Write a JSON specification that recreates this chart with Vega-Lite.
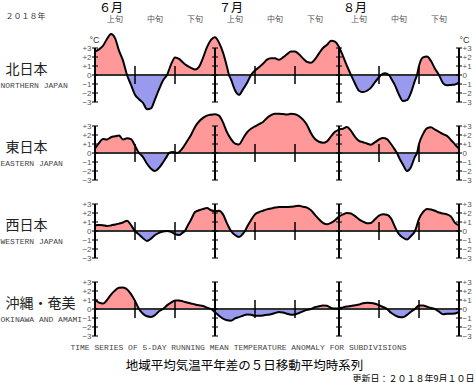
{
  "$schema": "https://vega.github.io/schema/vega-lite/v6.json",
  "padding": 0,
  "bounds": "flush",
  "spacing": 24,
  "config": {
    "view": {"stroke": null},
    "axis": {"domain": false, "ticks": false, "grid": false, "labelFont": "Liberation Sans", "labelFontSize": 8, "labelColor": "#555", "labelOverlap": false, "labelFlush": false, "titleFontWeight": "normal"}
  },
  "datasets": {
    "months": [
      {"date": "2018-06-05", "label": "６月"},
      {"date": "2018-07-05", "label": "７月"},
      {"date": "2018-08-05", "label": "８月"}
    ],
    "dekadLabels": [
      {"date": "2018-06-06", "label": "上旬"}, {"date": "2018-06-16", "label": "中旬"}, {"date": "2018-06-26", "label": "下旬"},
      {"date": "2018-07-06", "label": "上旬"}, {"date": "2018-07-16", "label": "中旬"}, {"date": "2018-07-26", "label": "下旬"},
      {"date": "2018-08-06", "label": "上旬"}, {"date": "2018-08-16", "label": "中旬"}, {"date": "2018-08-26", "label": "下旬"}
    ],
    "frame": [
      {"date": "2018-06-01", "ticks": [-3, -2, -1, 0, 1, 2, 3]},
      {"date": "2018-07-01", "ticks": [-3, -2, -1, 0, 1, 2, 3]},
      {"date": "2018-08-01", "ticks": [-3, -2, -1, 0, 1, 2, 3]},
      {"date": "2018-08-31", "ticks": [-3, -2, -1, 0, 1, 2, 3]}
    ],
    "dekads": [
      {"date": "2018-06-11"}, {"date": "2018-06-21"}, {"date": "2018-07-11"},
      {"date": "2018-07-21"}, {"date": "2018-08-11"}, {"date": "2018-08-21"}
    ],
    "north": [
      {"date": "2018-06-01", "v": 2.6}, {"date": "2018-06-02", "v": 2.85}, {"date": "2018-06-03", "v": 3.25}, {"date": "2018-06-04", "v": 4.0},
      {"date": "2018-06-05", "v": 4.55}, {"date": "2018-06-06", "v": 4.1}, {"date": "2018-06-07", "v": 2.7}, {"date": "2018-06-08", "v": 1.6},
      {"date": "2018-06-09", "v": 0}, {"date": "2018-06-10", "v": -1.1}, {"date": "2018-06-11", "v": -2.2}, {"date": "2018-06-12", "v": -2.7},
      {"date": "2018-06-13", "v": -3.1}, {"date": "2018-06-14", "v": -3.8}, {"date": "2018-06-15", "v": -3.7}, {"date": "2018-06-16", "v": -2.7},
      {"date": "2018-06-17", "v": -1.6}, {"date": "2018-06-18", "v": -0.6}, {"date": "2018-06-19", "v": 0}, {"date": "2018-06-20", "v": 1.15},
      {"date": "2018-06-21", "v": 1.95}, {"date": "2018-06-22", "v": 1.8}, {"date": "2018-06-23", "v": 1.4}, {"date": "2018-06-24", "v": 1.05},
      {"date": "2018-06-25", "v": 0.8}, {"date": "2018-06-26", "v": 0.6}, {"date": "2018-06-27", "v": 0.9}, {"date": "2018-06-28", "v": 1.9},
      {"date": "2018-06-29", "v": 3.1}, {"date": "2018-06-30", "v": 3.9}, {"date": "2018-07-01", "v": 4.2}, {"date": "2018-07-02", "v": 3.6},
      {"date": "2018-07-03", "v": 2.5}, {"date": "2018-07-04", "v": 0.9}, {"date": "2018-07-04T12:00Z", "v": 0}, {"date": "2018-07-05", "v": -0.5},
      {"date": "2018-07-06", "v": -1.7}, {"date": "2018-07-07", "v": -2.2}, {"date": "2018-07-08", "v": -1.6}, {"date": "2018-07-09", "v": -0.9},
      {"date": "2018-07-10", "v": 0}, {"date": "2018-07-11", "v": 0.5}, {"date": "2018-07-12", "v": 0.85}, {"date": "2018-07-13", "v": 1.25},
      {"date": "2018-07-14", "v": 1.7}, {"date": "2018-07-15", "v": 1.85}, {"date": "2018-07-16", "v": 1.85}, {"date": "2018-07-17", "v": 1.7},
      {"date": "2018-07-18", "v": 1.95}, {"date": "2018-07-19", "v": 2.3}, {"date": "2018-07-20", "v": 2.6}, {"date": "2018-07-21", "v": 2.6},
      {"date": "2018-07-22", "v": 2.3}, {"date": "2018-07-23", "v": 1.85}, {"date": "2018-07-24", "v": 1.45}, {"date": "2018-07-25", "v": 1.35},
      {"date": "2018-07-26", "v": 1.75}, {"date": "2018-07-27", "v": 2.4}, {"date": "2018-07-28", "v": 3.0}, {"date": "2018-07-29", "v": 3.35},
      {"date": "2018-07-30", "v": 3.8}, {"date": "2018-07-31", "v": 3.7}, {"date": "2018-08-01", "v": 3.1}, {"date": "2018-08-02", "v": 2.1},
      {"date": "2018-08-03", "v": 1.0}, {"date": "2018-08-04", "v": 0}, {"date": "2018-08-05", "v": -0.95}, {"date": "2018-08-06", "v": -1.75},
      {"date": "2018-08-07", "v": -1.9}, {"date": "2018-08-08", "v": -1.75}, {"date": "2018-08-09", "v": -1.4}, {"date": "2018-08-10", "v": -0.8},
      {"date": "2018-08-11", "v": -0.25}, {"date": "2018-08-11T12:00Z", "v": 0}, {"date": "2018-08-12T12:00Z", "v": 0.2}, {"date": "2018-08-13T12:00Z", "v": 0},
      {"date": "2018-08-14", "v": -0.35}, {"date": "2018-08-15", "v": -1.15}, {"date": "2018-08-16", "v": -2.2}, {"date": "2018-08-17", "v": -2.9},
      {"date": "2018-08-18", "v": -2.8}, {"date": "2018-08-19", "v": -1.95}, {"date": "2018-08-20", "v": -0.6}, {"date": "2018-08-20T12:00Z", "v": 0},
      {"date": "2018-08-21", "v": 1.0}, {"date": "2018-08-22", "v": 1.95}, {"date": "2018-08-23", "v": 2.05}, {"date": "2018-08-24", "v": 1.55},
      {"date": "2018-08-25", "v": 0.7}, {"date": "2018-08-26", "v": 0}, {"date": "2018-08-27", "v": -0.9}, {"date": "2018-08-28", "v": -1.15},
      {"date": "2018-08-29", "v": -1.1}, {"date": "2018-08-30", "v": -1.05}, {"date": "2018-08-31", "v": -0.8}
    ],
    "east": [
      {"date": "2018-06-01", "v": 0.5}, {"date": "2018-06-02", "v": 1.1}, {"date": "2018-06-03", "v": 1.55}, {"date": "2018-06-04", "v": 1.5},
      {"date": "2018-06-05", "v": 1.75}, {"date": "2018-06-06", "v": 1.85}, {"date": "2018-06-07", "v": 1.95}, {"date": "2018-06-08", "v": 1.5},
      {"date": "2018-06-09", "v": 1.65}, {"date": "2018-06-10", "v": 1.55}, {"date": "2018-06-11", "v": 0.8}, {"date": "2018-06-12", "v": 0},
      {"date": "2018-06-13", "v": -0.45}, {"date": "2018-06-14", "v": -1.2}, {"date": "2018-06-15", "v": -1.75}, {"date": "2018-06-16", "v": -2.0},
      {"date": "2018-06-17", "v": -1.65}, {"date": "2018-06-18", "v": -1.05}, {"date": "2018-06-19", "v": -0.35}, {"date": "2018-06-19T12:00Z", "v": 0},
      {"date": "2018-06-20T12:00Z", "v": 0.12}, {"date": "2018-06-21T12:00Z", "v": 0}, {"date": "2018-06-23", "v": 0.6}, {"date": "2018-06-24", "v": 1.3},
      {"date": "2018-06-25", "v": 2.0}, {"date": "2018-06-26", "v": 2.9}, {"date": "2018-06-27", "v": 3.5}, {"date": "2018-06-28", "v": 3.9},
      {"date": "2018-06-29", "v": 4.15}, {"date": "2018-06-30", "v": 4.25}, {"date": "2018-07-01", "v": 4.3}, {"date": "2018-07-02", "v": 4.15},
      {"date": "2018-07-03", "v": 3.4}, {"date": "2018-07-04", "v": 2.3}, {"date": "2018-07-05", "v": 1.55}, {"date": "2018-07-06", "v": 1.05},
      {"date": "2018-07-07", "v": 0.95}, {"date": "2018-07-08", "v": 1.6}, {"date": "2018-07-09", "v": 2.3}, {"date": "2018-07-10", "v": 2.7},
      {"date": "2018-07-11", "v": 2.95}, {"date": "2018-07-12", "v": 3.2}, {"date": "2018-07-13", "v": 3.45}, {"date": "2018-07-14", "v": 3.9},
      {"date": "2018-07-15", "v": 4.2}, {"date": "2018-07-16", "v": 4.37}, {"date": "2018-07-17", "v": 4.37}, {"date": "2018-07-18", "v": 4.33},
      {"date": "2018-07-19", "v": 4.27}, {"date": "2018-07-20", "v": 4.35}, {"date": "2018-07-21", "v": 4.3}, {"date": "2018-07-22", "v": 4.1},
      {"date": "2018-07-23", "v": 3.7}, {"date": "2018-07-24", "v": 3.1}, {"date": "2018-07-25", "v": 2.2}, {"date": "2018-07-26", "v": 1.55},
      {"date": "2018-07-27", "v": 1.25}, {"date": "2018-07-28", "v": 1.15}, {"date": "2018-07-29", "v": 1.3}, {"date": "2018-07-30", "v": 1.85},
      {"date": "2018-07-31", "v": 2.35}, {"date": "2018-08-01", "v": 2.6}, {"date": "2018-08-02", "v": 2.7}, {"date": "2018-08-03", "v": 2.9},
      {"date": "2018-08-04", "v": 2.45}, {"date": "2018-08-05", "v": 1.8}, {"date": "2018-08-06", "v": 1.35}, {"date": "2018-08-07", "v": 1.2},
      {"date": "2018-08-08", "v": 1.05}, {"date": "2018-08-09", "v": 0.93}, {"date": "2018-08-10", "v": 1.2}, {"date": "2018-08-11", "v": 1.5},
      {"date": "2018-08-12", "v": 1.67}, {"date": "2018-08-13", "v": 1.55}, {"date": "2018-08-14", "v": 1.0}, {"date": "2018-08-15", "v": 0.35},
      {"date": "2018-08-15T12:00Z", "v": 0}, {"date": "2018-08-16", "v": -0.5}, {"date": "2018-08-17", "v": -1.3}, {"date": "2018-08-18", "v": -2.0},
      {"date": "2018-08-19", "v": -1.55}, {"date": "2018-08-20", "v": -0.4}, {"date": "2018-08-20T12:00Z", "v": 0}, {"date": "2018-08-21", "v": 1.0},
      {"date": "2018-08-22", "v": 2.1}, {"date": "2018-08-23", "v": 2.75}, {"date": "2018-08-24", "v": 2.85}, {"date": "2018-08-25", "v": 2.6},
      {"date": "2018-08-26", "v": 2.35}, {"date": "2018-08-27", "v": 2.1}, {"date": "2018-08-28", "v": 1.9}, {"date": "2018-08-29", "v": 1.45},
      {"date": "2018-08-30", "v": 0.95}, {"date": "2018-08-31", "v": 0.5}
    ],
    "west": [
      {"date": "2018-06-01", "v": 0.63}, {"date": "2018-06-02", "v": 0.68}, {"date": "2018-06-03", "v": 0.65}, {"date": "2018-06-04", "v": 0.55},
      {"date": "2018-06-05", "v": 0.62}, {"date": "2018-06-06", "v": 0.72}, {"date": "2018-06-07", "v": 0.82}, {"date": "2018-06-08", "v": 0.95},
      {"date": "2018-06-09", "v": 1.15}, {"date": "2018-06-10", "v": 0.65}, {"date": "2018-06-11", "v": 0}, {"date": "2018-06-12", "v": -0.4},
      {"date": "2018-06-13", "v": -0.8}, {"date": "2018-06-14", "v": -1.1}, {"date": "2018-06-15", "v": -0.85}, {"date": "2018-06-16", "v": -0.45},
      {"date": "2018-06-17", "v": -0.2}, {"date": "2018-06-18", "v": -0.05}, {"date": "2018-06-19", "v": 0}, {"date": "2018-06-20", "v": -0.1},
      {"date": "2018-06-21", "v": -0.35}, {"date": "2018-06-22", "v": -0.45}, {"date": "2018-06-23", "v": -0.15}, {"date": "2018-06-23T12:00Z", "v": 0},
      {"date": "2018-06-24", "v": 0.45}, {"date": "2018-06-25", "v": 1.25}, {"date": "2018-06-26", "v": 2.1}, {"date": "2018-06-27", "v": 2.3},
      {"date": "2018-06-28", "v": 2.45}, {"date": "2018-06-29", "v": 2.55}, {"date": "2018-06-30", "v": 2.3}, {"date": "2018-07-01", "v": 2.2},
      {"date": "2018-07-02", "v": 2.25}, {"date": "2018-07-03", "v": 1.85}, {"date": "2018-07-04", "v": 0.85}, {"date": "2018-07-05", "v": 0},
      {"date": "2018-07-06", "v": -0.45}, {"date": "2018-07-07", "v": -0.67}, {"date": "2018-07-08", "v": -0.3}, {"date": "2018-07-08T12:00Z", "v": 0},
      {"date": "2018-07-09", "v": 0.45}, {"date": "2018-07-10", "v": 1.2}, {"date": "2018-07-11", "v": 1.85}, {"date": "2018-07-12", "v": 2.1},
      {"date": "2018-07-13", "v": 2.25}, {"date": "2018-07-14", "v": 2.4}, {"date": "2018-07-15", "v": 2.5}, {"date": "2018-07-16", "v": 2.6},
      {"date": "2018-07-17", "v": 2.67}, {"date": "2018-07-18", "v": 2.67}, {"date": "2018-07-19", "v": 2.67}, {"date": "2018-07-20", "v": 2.7},
      {"date": "2018-07-21", "v": 2.75}, {"date": "2018-07-22", "v": 2.8}, {"date": "2018-07-23", "v": 2.7}, {"date": "2018-07-24", "v": 2.6},
      {"date": "2018-07-25", "v": 2.3}, {"date": "2018-07-26", "v": 1.8}, {"date": "2018-07-27", "v": 1.3}, {"date": "2018-07-28", "v": 0.9},
      {"date": "2018-07-29", "v": 0.75}, {"date": "2018-07-30", "v": 0.9}, {"date": "2018-07-31", "v": 1.2}, {"date": "2018-08-01", "v": 1.6},
      {"date": "2018-08-02", "v": 1.85}, {"date": "2018-08-03", "v": 2.0}, {"date": "2018-08-04", "v": 1.95}, {"date": "2018-08-05", "v": 1.65},
      {"date": "2018-08-06", "v": 1.3}, {"date": "2018-08-07", "v": 1.05}, {"date": "2018-08-08", "v": 0.85}, {"date": "2018-08-09", "v": 0.9},
      {"date": "2018-08-10", "v": 1.3}, {"date": "2018-08-11", "v": 1.7}, {"date": "2018-08-12", "v": 1.85}, {"date": "2018-08-13", "v": 1.8},
      {"date": "2018-08-14", "v": 1.4}, {"date": "2018-08-15", "v": 0.45}, {"date": "2018-08-15T12:00Z", "v": 0}, {"date": "2018-08-16", "v": -0.35},
      {"date": "2018-08-17", "v": -0.75}, {"date": "2018-08-18", "v": -0.95}, {"date": "2018-08-19", "v": -0.55}, {"date": "2018-08-20", "v": 0},
      {"date": "2018-08-21", "v": 1.35}, {"date": "2018-08-22", "v": 2.1}, {"date": "2018-08-23", "v": 2.45}, {"date": "2018-08-24", "v": 2.4},
      {"date": "2018-08-25", "v": 2.25}, {"date": "2018-08-26", "v": 2.05}, {"date": "2018-08-27", "v": 1.95}, {"date": "2018-08-28", "v": 1.85},
      {"date": "2018-08-29", "v": 1.6}, {"date": "2018-08-30", "v": 0.9}, {"date": "2018-08-31", "v": 0.63}
    ],
    "okinawa": [
      {"date": "2018-06-01", "v": 1.07}, {"date": "2018-06-02", "v": 0.7}, {"date": "2018-06-03", "v": 0.6}, {"date": "2018-06-04", "v": 1.0},
      {"date": "2018-06-05", "v": 1.6}, {"date": "2018-06-06", "v": 2.05}, {"date": "2018-06-07", "v": 2.35}, {"date": "2018-06-08", "v": 2.4},
      {"date": "2018-06-09", "v": 2.2}, {"date": "2018-06-10", "v": 1.65}, {"date": "2018-06-11", "v": 0.9}, {"date": "2018-06-12", "v": 0},
      {"date": "2018-06-13", "v": -0.52}, {"date": "2018-06-14", "v": -0.8}, {"date": "2018-06-15", "v": -0.88}, {"date": "2018-06-16", "v": -0.68},
      {"date": "2018-06-17", "v": -0.25}, {"date": "2018-06-18", "v": 0}, {"date": "2018-06-19", "v": 0.4}, {"date": "2018-06-20", "v": 0.7},
      {"date": "2018-06-21", "v": 0.95}, {"date": "2018-06-22", "v": 0.95}, {"date": "2018-06-23", "v": 0.85}, {"date": "2018-06-24", "v": 0.72},
      {"date": "2018-06-25", "v": 0.62}, {"date": "2018-06-26", "v": 0.5}, {"date": "2018-06-27", "v": 0.42}, {"date": "2018-06-28", "v": 0.33},
      {"date": "2018-06-29", "v": 0.15}, {"date": "2018-06-30", "v": 0}, {"date": "2018-07-01", "v": -0.35}, {"date": "2018-07-02", "v": -0.75},
      {"date": "2018-07-03", "v": -1.07}, {"date": "2018-07-04", "v": -1.25}, {"date": "2018-07-05", "v": -1.3}, {"date": "2018-07-06", "v": -1.05},
      {"date": "2018-07-07", "v": -0.9}, {"date": "2018-07-08", "v": -0.75}, {"date": "2018-07-09", "v": -0.6}, {"date": "2018-07-10", "v": -0.65},
      {"date": "2018-07-11", "v": -0.75}, {"date": "2018-07-12", "v": -0.75}, {"date": "2018-07-13", "v": -0.72}, {"date": "2018-07-14", "v": -0.65},
      {"date": "2018-07-15", "v": -0.58}, {"date": "2018-07-16", "v": -0.45}, {"date": "2018-07-17", "v": -0.33}, {"date": "2018-07-18", "v": -0.4},
      {"date": "2018-07-19", "v": -0.52}, {"date": "2018-07-20", "v": -0.63}, {"date": "2018-07-21", "v": -0.6}, {"date": "2018-07-22", "v": -0.45},
      {"date": "2018-07-23", "v": -0.26}, {"date": "2018-07-24", "v": -0.1}, {"date": "2018-07-25", "v": 0}, {"date": "2018-07-26", "v": 0.2},
      {"date": "2018-07-27", "v": 0.3}, {"date": "2018-07-28", "v": 0.38}, {"date": "2018-07-29", "v": 0.35}, {"date": "2018-07-30", "v": 0.12},
      {"date": "2018-07-31", "v": 0.05}, {"date": "2018-08-01", "v": 0.07}, {"date": "2018-08-02", "v": 0.18}, {"date": "2018-08-03", "v": 0.27},
      {"date": "2018-08-04", "v": 0.33}, {"date": "2018-08-05", "v": 0.42}, {"date": "2018-08-06", "v": 0.5}, {"date": "2018-08-07", "v": 0.65},
      {"date": "2018-08-08", "v": 0.7}, {"date": "2018-08-09", "v": 0.67}, {"date": "2018-08-10", "v": 0.58}, {"date": "2018-08-11", "v": 0.42},
      {"date": "2018-08-12", "v": 0.22}, {"date": "2018-08-13", "v": 0}, {"date": "2018-08-14", "v": -0.42}, {"date": "2018-08-15", "v": -0.7},
      {"date": "2018-08-16", "v": -0.88}, {"date": "2018-08-17", "v": -0.92}, {"date": "2018-08-18", "v": -0.65}, {"date": "2018-08-19", "v": -0.3},
      {"date": "2018-08-20", "v": 0}, {"date": "2018-08-21", "v": 0.38}, {"date": "2018-08-22", "v": 0.38}, {"date": "2018-08-23", "v": 0.25},
      {"date": "2018-08-24", "v": 0.12}, {"date": "2018-08-25", "v": 0}, {"date": "2018-08-26", "v": -0.3}, {"date": "2018-08-27", "v": -0.59},
      {"date": "2018-08-28", "v": -0.53}, {"date": "2018-08-29", "v": -0.52}, {"date": "2018-08-30", "v": -0.5}, {"date": "2018-08-31", "v": -0.33}
    ]
  },
  "vconcat": [
    {
      "width": 364, "height": 24,
      "resolve": {"axis": {"x": "independent"}},
      "layer": [
        {
          "data": {"name": "months"},
          "mark": {"type": "text", "font": "Noto Sans CJK JP", "fontSize": 12, "color": "#000", "dy": -4},
          "encoding": {
            "x": {"field": "date", "type": "temporal", "scale": {"type": "utc", "domain": [{"year": 2018, "month": 6, "date": 1, "utc": true}, {"year": 2018, "month": 8, "date": 31, "utc": true}]},
              "axis": {"orient": "bottom", "labels": false, "title": "２０１８年", "titleAngle": 0, "titleAlign": "left", "titleBaseline": "middle", "titleX": -90, "titleY": -8, "titleFont": "Noto Sans CJK JP", "titleFontSize": 8, "titleColor": "#333"}},
            "text": {"field": "label"}
          }
        },
        {
          "data": {"name": "dekadLabels"},
          "mark": {"type": "text", "font": "Noto Sans CJK JP", "fontSize": 8, "color": "#555", "dy": 8},
          "encoding": {
            "x": {"field": "date", "type": "temporal", "scale": {"type": "utc", "domain": [{"year": 2018, "month": 6, "date": 1, "utc": true}, {"year": 2018, "month": 8, "date": 31, "utc": true}]}, "axis": null},
            "text": {"field": "label"}
          }
        }
      ]
    },
    {
      "width": 364, "height": 54,
      "resolve": {"axis": {"y": "independent"}},
      "layer": [
        {"data": {"name": "north"}, "transform": [{"filter": "datum.v >= 0"}],
         "mark": {"type": "area", "interpolate": "monotone", "color": "#ff9999"},
         "encoding": {"x": {"field": "date", "type": "temporal", "scale": {"type": "utc", "domain": [{"year": 2018, "month": 6, "date": 1, "utc": true}, {"year": 2018, "month": 8, "date": 31, "utc": true}]}, "axis": null},
           "y": {"field": "v", "type": "quantitative", "scale": {"domain": [-3, 3]}, "axis": {"orient": "left", "labels": false, "title": "北日本", "titleAngle": 0, "titleAlign": "left", "titleBaseline": "middle", "titleX": -90, "titleY": 21, "titleFont": "Noto Sans CJK JP", "titleFontSize": 14, "titleColor": "#222"}},
           "y2": {"datum": 0}}},
        {"data": {"name": "north"}, "transform": [{"filter": "datum.v <= 0"}],
         "mark": {"type": "area", "interpolate": "monotone", "color": "#9999ee"},
         "encoding": {"x": {"field": "date", "type": "temporal", "scale": {"type": "utc", "domain": [{"year": 2018, "month": 6, "date": 1, "utc": true}, {"year": 2018, "month": 8, "date": 31, "utc": true}]}, "axis": null},
           "y": {"field": "v", "type": "quantitative", "scale": {"domain": [-3, 3]}, "axis": {"orient": "left", "labels": false, "title": "NORTHERN JAPAN", "titleAngle": 0, "titleAlign": "left", "titleBaseline": "middle", "titleX": -95, "titleY": 37.5, "titleFont": "Liberation Mono", "titleFontSize": 8, "titleColor": "#444"}},
           "y2": {"datum": 0}}},
        {"data": {"values": [{}]},
         "mark": {"type": "rule", "color": "#333", "strokeWidth": 2},
         "encoding": {"y": {"datum": 0, "type": "quantitative", "scale": {"domain": [-3, 3]}, "axis": {"orient": "right", "values": [-3, -2, -1, 0, 1, 2, 3], "labelExpr": "datum.value > 0 ? '+' + datum.label : datum.label", "labelPadding": 3, "title": "°C", "titleAngle": 0, "titleAlign": "left", "titleBaseline": "middle", "titleX": 0, "titleY": -8.5, "titleFont": "Liberation Sans", "titleFontSize": 9, "titleColor": "#333"}}}},
        {"data": {"name": "frame"},
         "mark": {"type": "rule", "color": "#000", "strokeWidth": 2},
         "encoding": {"x": {"field": "date", "type": "temporal", "scale": {"type": "utc", "domain": [{"year": 2018, "month": 6, "date": 1, "utc": true}, {"year": 2018, "month": 8, "date": 31, "utc": true}]}, "axis": null},
           "y": {"datum": -3, "type": "quantitative", "scale": {"domain": [-3, 3]}, "axis": null}, "y2": {"datum": 3}}},
        {"data": {"name": "frame"}, "transform": [{"flatten": ["ticks"]}],
         "mark": {"type": "tick", "orient": "horizontal", "color": "#000", "size": 6, "thickness": 1.5},
         "encoding": {"x": {"field": "date", "type": "temporal", "scale": {"type": "utc", "domain": [{"year": 2018, "month": 6, "date": 1, "utc": true}, {"year": 2018, "month": 8, "date": 31, "utc": true}]}, "axis": null},
           "y": {"field": "ticks", "type": "quantitative", "scale": {"domain": [-3, 3]}, "axis": null}}},
        {"data": {"name": "dekads"},
         "mark": {"type": "rule", "color": "#000", "strokeWidth": 1.5},
         "encoding": {"x": {"field": "date", "type": "temporal", "scale": {"type": "utc", "domain": [{"year": 2018, "month": 6, "date": 1, "utc": true}, {"year": 2018, "month": 8, "date": 31, "utc": true}]}, "axis": null},
           "y": {"datum": -1, "type": "quantitative", "scale": {"domain": [-3, 3]}, "axis": null}, "y2": {"datum": 1}}},
        {"data": {"name": "north"},
         "mark": {"type": "line", "interpolate": "monotone", "color": "#000", "strokeWidth": 2},
         "encoding": {"x": {"field": "date", "type": "temporal", "scale": {"type": "utc", "domain": [{"year": 2018, "month": 6, "date": 1, "utc": true}, {"year": 2018, "month": 8, "date": 31, "utc": true}]}, "axis": null},
           "y": {"field": "v", "type": "quantitative", "scale": {"domain": [-3, 3]}, "axis": {"orient": "left", "values": [-3, -2, -1, 0, 1, 2, 3], "labelExpr": "datum.value > 0 ? '+' + datum.label : datum.label", "labelPadding": 4, "title": "°C", "titleAngle": 0, "titleAlign": "left", "titleBaseline": "middle", "titleX": -6, "titleY": -8.5, "titleFont": "Liberation Sans", "titleFontSize": 9, "titleColor": "#333"}}}}
      ]
    },
    {
      "width": 364, "height": 54,
      "resolve": {"axis": {"y": "independent"}},
      "layer": [
        {"data": {"name": "east"}, "transform": [{"filter": "datum.v >= 0"}],
         "mark": {"type": "area", "interpolate": "monotone", "color": "#ff9999"},
         "encoding": {"x": {"field": "date", "type": "temporal", "scale": {"type": "utc", "domain": [{"year": 2018, "month": 6, "date": 1, "utc": true}, {"year": 2018, "month": 8, "date": 31, "utc": true}]}, "axis": null},
           "y": {"field": "v", "type": "quantitative", "scale": {"domain": [-3, 3]}, "axis": {"orient": "left", "labels": false, "title": "東日本", "titleAngle": 0, "titleAlign": "left", "titleBaseline": "middle", "titleX": -90, "titleY": 21, "titleFont": "Noto Sans CJK JP", "titleFontSize": 14, "titleColor": "#222"}},
           "y2": {"datum": 0}}},
        {"data": {"name": "east"}, "transform": [{"filter": "datum.v <= 0"}],
         "mark": {"type": "area", "interpolate": "monotone", "color": "#9999ee"},
         "encoding": {"x": {"field": "date", "type": "temporal", "scale": {"type": "utc", "domain": [{"year": 2018, "month": 6, "date": 1, "utc": true}, {"year": 2018, "month": 8, "date": 31, "utc": true}]}, "axis": null},
           "y": {"field": "v", "type": "quantitative", "scale": {"domain": [-3, 3]}, "axis": {"orient": "left", "labels": false, "title": "EASTERN JAPAN", "titleAngle": 0, "titleAlign": "left", "titleBaseline": "middle", "titleX": -95, "titleY": 37.5, "titleFont": "Liberation Mono", "titleFontSize": 8, "titleColor": "#444"}},
           "y2": {"datum": 0}}},
        {"data": {"values": [{}]},
         "mark": {"type": "rule", "color": "#333", "strokeWidth": 2},
         "encoding": {"y": {"datum": 0, "type": "quantitative", "scale": {"domain": [-3, 3]}, "axis": {"orient": "right", "values": [-3, -2, -1, 0, 1, 2, 3], "labelExpr": "datum.value > 0 ? '+' + datum.label : datum.label", "labelPadding": 3, "title": null}}}},
        {"data": {"name": "frame"},
         "mark": {"type": "rule", "color": "#000", "strokeWidth": 2},
         "encoding": {"x": {"field": "date", "type": "temporal", "scale": {"type": "utc", "domain": [{"year": 2018, "month": 6, "date": 1, "utc": true}, {"year": 2018, "month": 8, "date": 31, "utc": true}]}, "axis": null},
           "y": {"datum": -3, "type": "quantitative", "scale": {"domain": [-3, 3]}, "axis": null}, "y2": {"datum": 3}}},
        {"data": {"name": "frame"}, "transform": [{"flatten": ["ticks"]}],
         "mark": {"type": "tick", "orient": "horizontal", "color": "#000", "size": 6, "thickness": 1.5},
         "encoding": {"x": {"field": "date", "type": "temporal", "scale": {"type": "utc", "domain": [{"year": 2018, "month": 6, "date": 1, "utc": true}, {"year": 2018, "month": 8, "date": 31, "utc": true}]}, "axis": null},
           "y": {"field": "ticks", "type": "quantitative", "scale": {"domain": [-3, 3]}, "axis": null}}},
        {"data": {"name": "dekads"},
         "mark": {"type": "rule", "color": "#000", "strokeWidth": 1.5},
         "encoding": {"x": {"field": "date", "type": "temporal", "scale": {"type": "utc", "domain": [{"year": 2018, "month": 6, "date": 1, "utc": true}, {"year": 2018, "month": 8, "date": 31, "utc": true}]}, "axis": null},
           "y": {"datum": -1, "type": "quantitative", "scale": {"domain": [-3, 3]}, "axis": null}, "y2": {"datum": 1}}},
        {"data": {"name": "east"},
         "mark": {"type": "line", "interpolate": "monotone", "color": "#000", "strokeWidth": 2},
         "encoding": {"x": {"field": "date", "type": "temporal", "scale": {"type": "utc", "domain": [{"year": 2018, "month": 6, "date": 1, "utc": true}, {"year": 2018, "month": 8, "date": 31, "utc": true}]}, "axis": null},
           "y": {"field": "v", "type": "quantitative", "scale": {"domain": [-3, 3]}, "axis": {"orient": "left", "values": [-3, -2, -1, 0, 1, 2, 3], "labelExpr": "datum.value > 0 ? '+' + datum.label : datum.label", "labelPadding": 4, "title": null}}}}
      ]
    },
    {
      "width": 364, "height": 54,
      "resolve": {"axis": {"y": "independent"}},
      "layer": [
        {"data": {"name": "west"}, "transform": [{"filter": "datum.v >= 0"}],
         "mark": {"type": "area", "interpolate": "monotone", "color": "#ff9999"},
         "encoding": {"x": {"field": "date", "type": "temporal", "scale": {"type": "utc", "domain": [{"year": 2018, "month": 6, "date": 1, "utc": true}, {"year": 2018, "month": 8, "date": 31, "utc": true}]}, "axis": null},
           "y": {"field": "v", "type": "quantitative", "scale": {"domain": [-3, 3]}, "axis": {"orient": "left", "labels": false, "title": "西日本", "titleAngle": 0, "titleAlign": "left", "titleBaseline": "middle", "titleX": -90, "titleY": 21, "titleFont": "Noto Sans CJK JP", "titleFontSize": 14, "titleColor": "#222"}},
           "y2": {"datum": 0}}},
        {"data": {"name": "west"}, "transform": [{"filter": "datum.v <= 0"}],
         "mark": {"type": "area", "interpolate": "monotone", "color": "#9999ee"},
         "encoding": {"x": {"field": "date", "type": "temporal", "scale": {"type": "utc", "domain": [{"year": 2018, "month": 6, "date": 1, "utc": true}, {"year": 2018, "month": 8, "date": 31, "utc": true}]}, "axis": null},
           "y": {"field": "v", "type": "quantitative", "scale": {"domain": [-3, 3]}, "axis": {"orient": "left", "labels": false, "title": "WESTERN JAPAN", "titleAngle": 0, "titleAlign": "left", "titleBaseline": "middle", "titleX": -95, "titleY": 37.5, "titleFont": "Liberation Mono", "titleFontSize": 8, "titleColor": "#444"}},
           "y2": {"datum": 0}}},
        {"data": {"values": [{}]},
         "mark": {"type": "rule", "color": "#333", "strokeWidth": 2},
         "encoding": {"y": {"datum": 0, "type": "quantitative", "scale": {"domain": [-3, 3]}, "axis": {"orient": "right", "values": [-3, -2, -1, 0, 1, 2, 3], "labelExpr": "datum.value > 0 ? '+' + datum.label : datum.label", "labelPadding": 3, "title": null}}}},
        {"data": {"name": "frame"},
         "mark": {"type": "rule", "color": "#000", "strokeWidth": 2},
         "encoding": {"x": {"field": "date", "type": "temporal", "scale": {"type": "utc", "domain": [{"year": 2018, "month": 6, "date": 1, "utc": true}, {"year": 2018, "month": 8, "date": 31, "utc": true}]}, "axis": null},
           "y": {"datum": -3, "type": "quantitative", "scale": {"domain": [-3, 3]}, "axis": null}, "y2": {"datum": 3}}},
        {"data": {"name": "frame"}, "transform": [{"flatten": ["ticks"]}],
         "mark": {"type": "tick", "orient": "horizontal", "color": "#000", "size": 6, "thickness": 1.5},
         "encoding": {"x": {"field": "date", "type": "temporal", "scale": {"type": "utc", "domain": [{"year": 2018, "month": 6, "date": 1, "utc": true}, {"year": 2018, "month": 8, "date": 31, "utc": true}]}, "axis": null},
           "y": {"field": "ticks", "type": "quantitative", "scale": {"domain": [-3, 3]}, "axis": null}}},
        {"data": {"name": "dekads"},
         "mark": {"type": "rule", "color": "#000", "strokeWidth": 1.5},
         "encoding": {"x": {"field": "date", "type": "temporal", "scale": {"type": "utc", "domain": [{"year": 2018, "month": 6, "date": 1, "utc": true}, {"year": 2018, "month": 8, "date": 31, "utc": true}]}, "axis": null},
           "y": {"datum": -1, "type": "quantitative", "scale": {"domain": [-3, 3]}, "axis": null}, "y2": {"datum": 1}}},
        {"data": {"name": "west"},
         "mark": {"type": "line", "interpolate": "monotone", "color": "#000", "strokeWidth": 2},
         "encoding": {"x": {"field": "date", "type": "temporal", "scale": {"type": "utc", "domain": [{"year": 2018, "month": 6, "date": 1, "utc": true}, {"year": 2018, "month": 8, "date": 31, "utc": true}]}, "axis": null},
           "y": {"field": "v", "type": "quantitative", "scale": {"domain": [-3, 3]}, "axis": {"orient": "left", "values": [-3, -2, -1, 0, 1, 2, 3], "labelExpr": "datum.value > 0 ? '+' + datum.label : datum.label", "labelPadding": 4, "title": null}}}}
      ]
    },
    {
      "width": 364, "height": 54,
      "resolve": {"axis": {"y": "independent", "x": "independent"}},
      "layer": [
        {"data": {"name": "okinawa"}, "transform": [{"filter": "datum.v >= 0"}],
         "mark": {"type": "area", "interpolate": "monotone", "color": "#ff9999"},
         "encoding": {"x": {"field": "date", "type": "temporal", "scale": {"type": "utc", "domain": [{"year": 2018, "month": 6, "date": 1, "utc": true}, {"year": 2018, "month": 8, "date": 31, "utc": true}]},
             "axis": {"orient": "bottom", "labels": false, "title": "地域平均気温平年差の５日移動平均時系列", "titleAngle": 0, "titleAlign": "center", "titleBaseline": "middle", "titleX": 149, "titleY": 29, "titleFont": "Noto Sans CJK JP", "titleFontSize": 12.5, "titleColor": "#000"}},
           "y": {"field": "v", "type": "quantitative", "scale": {"domain": [-3, 3]}, "axis": {"orient": "left", "labels": false, "title": "沖縄・奄美", "titleAngle": 0, "titleAlign": "left", "titleBaseline": "middle", "titleX": -90, "titleY": 21, "titleFont": "Noto Sans CJK JP", "titleFontSize": 14, "titleColor": "#222"}},
           "y2": {"datum": 0}}},
        {"data": {"name": "okinawa"}, "transform": [{"filter": "datum.v <= 0"}],
         "mark": {"type": "area", "interpolate": "monotone", "color": "#9999ee"},
         "encoding": {"x": {"field": "date", "type": "temporal", "scale": {"type": "utc", "domain": [{"year": 2018, "month": 6, "date": 1, "utc": true}, {"year": 2018, "month": 8, "date": 31, "utc": true}]},
             "axis": {"orient": "bottom", "labels": false, "title": "更新日：２０１８年9月１０日", "titleAngle": 0, "titleAlign": "right", "titleBaseline": "middle", "titleX": 379, "titleY": 42, "titleFont": "Noto Sans CJK JP", "titleFontSize": 9, "titleColor": "#000"}},
           "y": {"field": "v", "type": "quantitative", "scale": {"domain": [-3, 3]}, "axis": {"orient": "left", "labels": false, "title": "OKINAWA AND AMAMI", "titleAngle": 0, "titleAlign": "left", "titleBaseline": "middle", "titleX": -95, "titleY": 37.5, "titleFont": "Liberation Mono", "titleFontSize": 8, "titleColor": "#444"}},
           "y2": {"datum": 0}}},
        {"data": {"values": [{}]},
         "mark": {"type": "rule", "color": "#333", "strokeWidth": 2},
         "encoding": {"y": {"datum": 0, "type": "quantitative", "scale": {"domain": [-3, 3]}, "axis": {"orient": "right", "values": [-3, -2, -1, 0, 1, 2, 3], "labelExpr": "datum.value > 0 ? '+' + datum.label : datum.label", "labelPadding": 3, "title": null}}}},
        {"data": {"name": "frame"},
         "mark": {"type": "rule", "color": "#000", "strokeWidth": 2},
         "encoding": {"x": {"field": "date", "type": "temporal", "scale": {"type": "utc", "domain": [{"year": 2018, "month": 6, "date": 1, "utc": true}, {"year": 2018, "month": 8, "date": 31, "utc": true}]}, "axis": null},
           "y": {"datum": -3, "type": "quantitative", "scale": {"domain": [-3, 3]}, "axis": null}, "y2": {"datum": 3}}},
        {"data": {"name": "frame"}, "transform": [{"flatten": ["ticks"]}],
         "mark": {"type": "tick", "orient": "horizontal", "color": "#000", "size": 6, "thickness": 1.5},
         "encoding": {"x": {"field": "date", "type": "temporal", "scale": {"type": "utc", "domain": [{"year": 2018, "month": 6, "date": 1, "utc": true}, {"year": 2018, "month": 8, "date": 31, "utc": true}]}, "axis": null},
           "y": {"field": "ticks", "type": "quantitative", "scale": {"domain": [-3, 3]}, "axis": null}}},
        {"data": {"name": "dekads"},
         "mark": {"type": "rule", "color": "#000", "strokeWidth": 1.5},
         "encoding": {"x": {"field": "date", "type": "temporal", "scale": {"type": "utc", "domain": [{"year": 2018, "month": 6, "date": 1, "utc": true}, {"year": 2018, "month": 8, "date": 31, "utc": true}]}, "axis": null},
           "y": {"datum": -1, "type": "quantitative", "scale": {"domain": [-3, 3]}, "axis": null}, "y2": {"datum": 1}}},
        {"data": {"name": "okinawa"},
         "mark": {"type": "line", "interpolate": "monotone", "color": "#000", "strokeWidth": 2},
         "encoding": {"x": {"field": "date", "type": "temporal", "scale": {"type": "utc", "domain": [{"year": 2018, "month": 6, "date": 1, "utc": true}, {"year": 2018, "month": 8, "date": 31, "utc": true}]},
             "axis": {"orient": "bottom", "labels": false, "title": "TIME SERIES OF 5-DAY RUNNING MEAN TEMPERATURE ANOMALY FOR SUBDIVISIONS", "titleAngle": 0, "titleAlign": "center", "titleBaseline": "middle", "titleX": 143, "titleY": 11, "titleFont": "Liberation Mono", "titleFontSize": 8, "titleColor": "#444"}},
           "y": {"field": "v", "type": "quantitative", "scale": {"domain": [-3, 3]}, "axis": {"orient": "left", "values": [-3, -2, -1, 0, 1, 2, 3], "labelExpr": "datum.value > 0 ? '+' + datum.label : datum.label", "labelPadding": 4, "title": null}}}}
      ]
    }
  ]
}
